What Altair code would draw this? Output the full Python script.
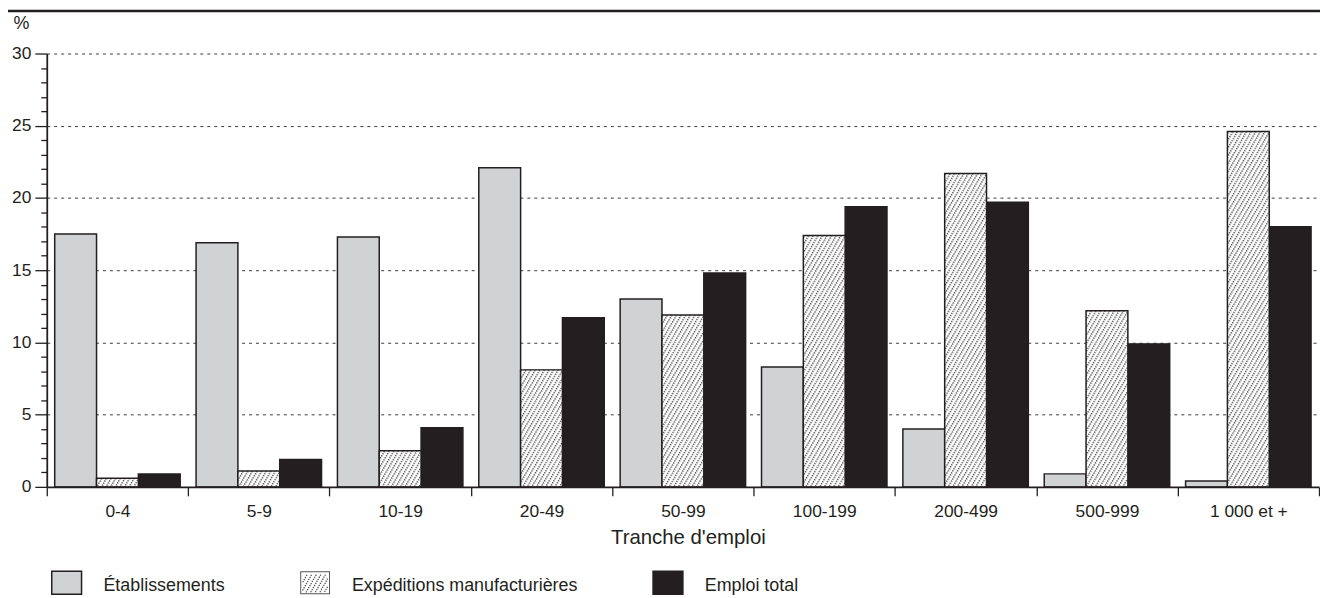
import base64
import math
import pandas as pd
import altair as alt

# ---- data ----
categories = ["0-4", "5-9", "10-19", "20-49", "50-99", "100-199", "200-499", "500-999", "1 000 et +"]
etablissements = [17.5, 16.9, 17.3, 22.1, 13.0, 8.3, 4.0, 0.9, 0.4]
expeditions = [0.6, 1.1, 2.5, 8.1, 11.9, 17.4, 21.7, 12.2, 24.6]
emploi_total = [0.9, 1.9, 4.1, 11.7, 14.8, 19.4, 19.7, 9.9, 18.0]
series = ["Établissements", "Expéditions manufacturières", "Emploi total"]
y_ticks = list(range(0, 31))

rows = []
for s, vals in zip(series, [etablissements, expeditions, emploi_total]):
    for c, v in zip(categories, vals):
        rows.append({"cat": c, "serie": s, "val": v})
df = pd.DataFrame(rows)

INK = "#231f20"
GRAY = "#d1d2d4"
DOT = "#555555"

PW, PH, PD = 4.0, 2.4, 1.4  # hatch pattern period / dot size (px)
SYM_DY = 5.5                # legend symbol drawn a little lower than the label centre (px)

# hatch texture (drawn at 1:1 inside the image box)
hatch_svg = (
    "<svg xmlns='http://www.w3.org/2000/svg'>"
    f"<defs><pattern id='h' width='{PW}' height='{PH}' patternUnits='userSpaceOnUse' "
    f"patternTransform='rotate(30)'><rect width='{PD}' height='{PD}' fill='#4d4d4d'/></pattern></defs>"
    "<rect width='100%' height='100%' fill='#ffffff'/>"
    "<rect width='100%' height='100%' fill='url(#h)'/></svg>"
)
hatch_url = "data:image/svg+xml;base64," + base64.b64encode(hatch_svg.encode("utf-8")).decode("ascii")

R = 15.0
HW, HH = 15.0, 11.5


def rect_symbol():
    top, bot = (-HH + SYM_DY) / R, (HH + SYM_DY) / R
    return f"M-1,{top:.3f}H1V{bot:.3f}H-1Z"


def hatch_symbol():
    t, d = 1.0, 1.3
    dy = SYM_DY
    parts = [
        f"M{-HW/R:.3f},{(-HH+dy)/R:.3f}H{HW/R:.3f}V{(HH+dy)/R:.3f}H{-HW/R:.3f}Z",
        f"M{(-HW+t)/R:.3f},{(-HH+t+dy)/R:.3f}V{(HH-t+dy)/R:.3f}H{(HW-t)/R:.3f}V{(-HH+t+dy)/R:.3f}Z",
    ]
    ang = math.radians(30)
    for i in range(-14, 15):
        for j in range(-28, 29):
            px, py = i * PW, j * PH
            x = px * math.cos(ang) - py * math.sin(ang)
            y = px * math.sin(ang) + py * math.cos(ang)
            if (-HW + t + 0.6) <= x <= (HW - t - 0.6 - d) and (-HH + t + 0.6) <= y <= (HH - t - 0.6 - d):
                parts.append(f"M{x/R:.3f},{(y+dy)/R:.3f}h{d/R:.3f}v{d/R:.3f}h{-d/R:.3f}Z")
    return "".join(parts)


x_scale = alt.Scale(domain=categories, paddingInner=0, paddingOuter=0)
xoff_scale = alt.Scale(domain=series, paddingInner=0, paddingOuter=0.19)
y_scale = alt.Scale(domain=[0, 30], nice=False, zero=True)

x_axis = alt.Axis(
    title="Tranche d'emploi", labelAngle=0, tickBand="extent", tickSize=9, tickWidth=1.3,
    tickColor=INK, domainColor=INK, domainWidth=1.8, labelFontSize=17.5, labelPadding=6.5,
    labelColor=INK, titleFontSize=20.5, titleFontWeight="normal", titleColor=INK,
    titleBaseline="alphabetic", titleAlign="center", titleX=645, titleY=57, grid=False, zindex=1,
)
y_axis = alt.Axis(
    values=y_ticks, tickCount=len(y_ticks), labelOverlap=False,
    tickSize={"condition": {"test": "datum.value % 5 === 0", "value": 12}, "value": 6},
    labelExpr="datum.value % 5 === 0 ? datum.label : ''",
    grid=True, gridDash=[3, 4], gridColor="#3a3a3a", gridWidth=1,
    gridOpacity={"condition": {"test": "datum.value % 5 === 0 && datum.value > 0", "value": 1}, "value": 0},
    domainColor=INK, domainWidth=1.8, tickColor=INK, tickWidth=1.3,
    labelFontSize=17.5, labelColor=INK, labelPadding=4,
    title="%", titleAngle=0, titleAlign="left", titleBaseline="alphabetic",
    titleX=-34, titleY=-25, titleFontSize=18, titleFontWeight="normal", titleColor=INK,
)

base = alt.Chart(df)

bars = base.mark_bar(strokeWidth=1.5).encode(
    x=alt.X("cat:N", scale=x_scale, axis=x_axis),
    xOffset=alt.XOffset("serie:N", scale=xoff_scale),
    y=alt.Y("val:Q", scale=y_scale, axis=y_axis),
    fill=alt.Fill("serie:N", scale=alt.Scale(domain=series, range=[GRAY, DOT, INK]), legend=alt.Legend(title=None)),
    stroke=alt.Stroke("serie:N", scale=alt.Scale(domain=series, range=[INK, "transparent", INK]), legend=alt.Legend(title=None)),
)

hatch = base.transform_filter(alt.datum.serie == series[1]).mark_image(aspect=False).encode(
    x=alt.X("cat:N"),
    xOffset=alt.XOffset("serie:N"),
    y=alt.Y("val:Q"),
    y2=alt.datum(0),
    url=alt.value(hatch_url),
)

outline = base.transform_filter(alt.datum.serie == series[1]).mark_bar(
    fillOpacity=0, stroke=INK, strokeWidth=1.5
).encode(
    x=alt.X("cat:N"),
    xOffset=alt.XOffset("serie:N"),
    y=alt.Y("val:Q"),
)

points = base.transform_filter("false").mark_point().encode(
    x=alt.X("cat:N"),
    y=alt.Y("val:Q"),
    shape=alt.Shape("serie:N", scale=alt.Scale(domain=series, range=[rect_symbol(), hatch_symbol(), rect_symbol()]), legend=alt.Legend(title=None)),
)

topline = alt.Chart(pd.DataFrame({"k": [0]})).mark_rule(color=INK, strokeWidth=2.5).encode(
    x=alt.value(-39), x2=alt.value(1281), y=alt.value(-42.8)
)

chart = alt.layer(bars, hatch, outline, points, topline).properties(
    width=1280, height=436,
    autosize=alt.AutoSizeParams(type="none"),
    padding={"left": 39, "top": 44, "right": 1, "bottom": 110},
).configure(font="Liberation Sans").configure_view(stroke=None).configure_legend(
    orient="none", legendX=4, legendY=511, direction="horizontal",
    columnPadding=72, labelOffset=21, symbolSize=900, symbolStrokeWidth=1.5,
    labelFontSize=18, labelColor=INK, labelBaseline="top", labelLimit=400, padding=0,
)

chart.save("out.html", embed_options={"renderer": "svg", "actions": False})
